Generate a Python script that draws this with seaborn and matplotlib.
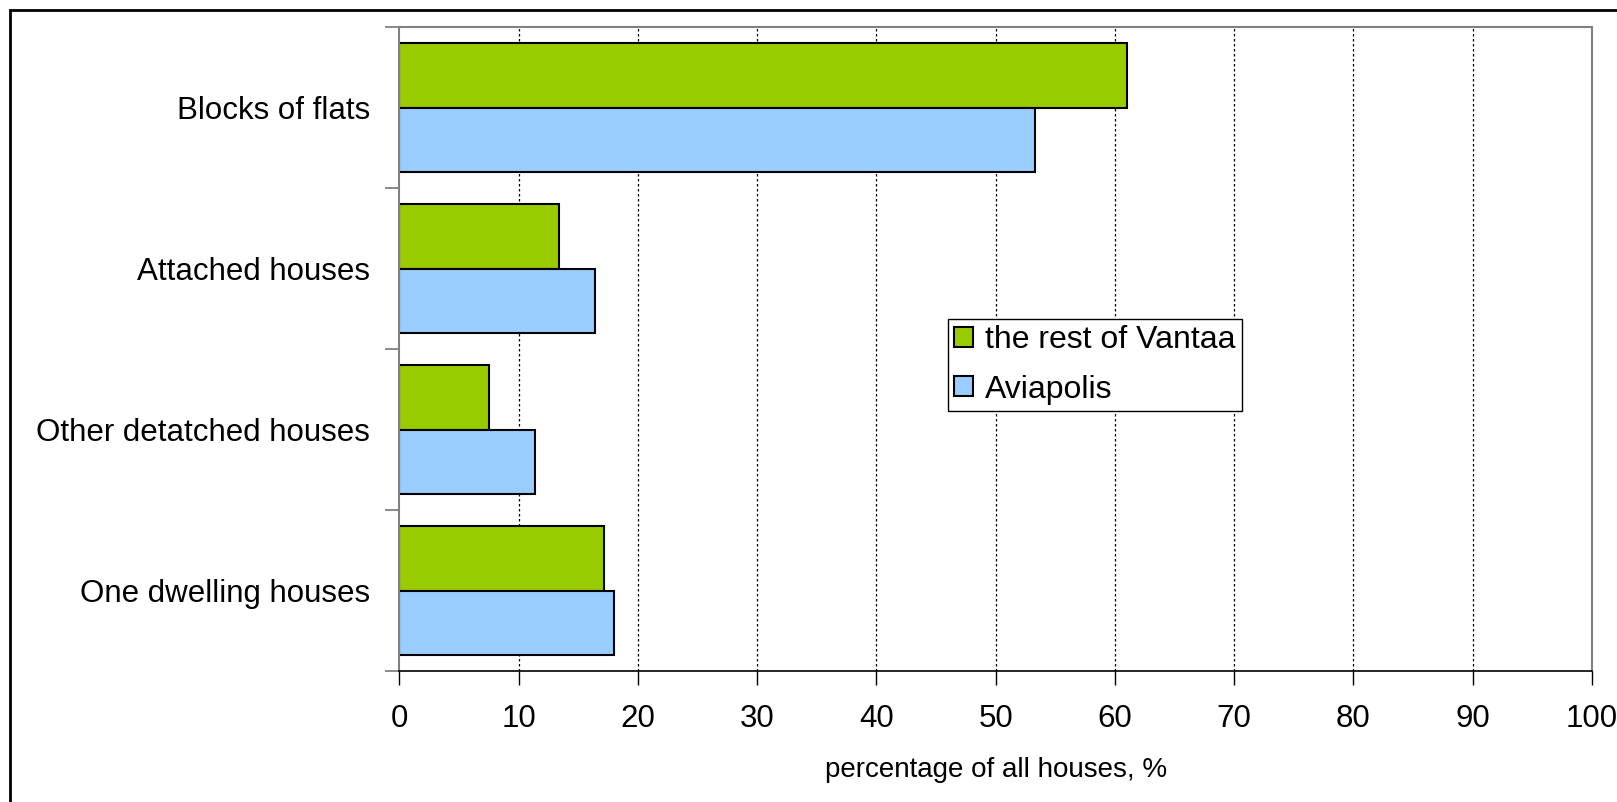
import matplotlib
matplotlib.use("Agg")
import matplotlib.pyplot as plt
import seaborn as sns
import pandas as pd
from matplotlib.patches import Rectangle
from matplotlib.ticker import FixedLocator

# values (percentage of all houses)
categories = ["Blocks of flats", "Attached houses", "Other detatched houses", "One dwelling houses"]
rest_of_vantaa = [61.0, 13.4, 7.5, 17.2]
aviapolis = [53.3, 16.4, 11.4, 18.0]
series_names = ["the rest of Vantaa", "Aviapolis"]
series_colors = ["#99CC00", "#99CCFF"]
x_ticks = [0, 10, 20, 30, 40, 50, 60, 70, 80, 90, 100]

df = pd.DataFrame({
    "category": categories * 2,
    "series": [series_names[0]] * 4 + [series_names[1]] * 4,
    "value": rest_of_vantaa + aviapolis,
})

sns.set_style("white")
plt.rcParams["font.family"] = ["Liberation Sans", "DejaVu Sans"]
plt.rcParams["text.color"] = "black"
plt.rcParams["axes.labelcolor"] = "black"
plt.rcParams["xtick.color"] = "black"
plt.rcParams["ytick.color"] = "black"

fig = plt.figure(figsize=(16.17, 8.02), dpi=100)
ax = fig.add_axes([0.2469, 0.16334, 0.73764, 0.80299])

sns.barplot(data=df, y="category", x="value", hue="series", order=categories,
            hue_order=series_names, palette=series_colors, orient="h",
            width=0.8, edgecolor="black", linewidth=1.5, saturation=1,
            ax=ax, legend=True)

ax.set_xlim(0, 100)
ax.set_ylim(3.5, -0.5)
ax.set_xticks(x_ticks)
ax.set_xticklabels([str(t) for t in x_ticks])
ax.tick_params(axis="x", bottom=True, direction="out", length=10, width=1,
               color="black", labelcolor="black", labelsize=22.5, pad=14)

# category labels at centres, tick marks at the boundaries
ax.yaxis.set_major_locator(FixedLocator([-0.5, 0.5, 1.5, 2.5, 3.5]))
ax.yaxis.set_minor_locator(FixedLocator(range(len(categories))))
ax.set_yticklabels([], minor=False)
ax.set_yticklabels(categories, minor=True)
ax.tick_params(axis="y", which="major", left=True, direction="out", length=10,
               width=1.3, color="#808080")
ax.tick_params(axis="y", which="minor", left=True, length=0, labelsize=22.5,
               labelcolor="black", pad=21)

ax.set_xlabel("")
ax.set_ylabel("")

# dashed vertical gridlines
for t in x_ticks[1:-1]:
    ax.axvline(t, color="black", lw=0.9, ls=(0, (2, 2)), zorder=0)

for side in ["left", "top", "right"]:
    ax.spines[side].set_color("#808080")
    ax.spines[side].set_linewidth(1.5)
ax.spines["bottom"].set_color("black")
ax.spines["bottom"].set_linewidth(1.2)

handles, labels = ax.get_legend_handles_labels()
leg = ax.legend(handles, labels, loc="upper left", bbox_to_anchor=(0.46, 0.5466),
                fontsize=23, frameon=True, fancybox=False, edgecolor="black",
                framealpha=1, borderaxespad=0, handlelength=0.6, handleheight=0.6,
                handletextpad=0.35, labelspacing=0.6, borderpad=0.2)
leg.get_frame().set_linewidth(1.0)

fig.text(0.6157, 1 - 770 / 802, "percentage of all houses, %", fontsize=20,
         ha="center", va="center")

# outer chart border (runs off the right and bottom edges)
fig.patches.append(Rectangle((10 / 1617, -0.1), 1.2, 1 - 10 / 802 + 0.1,
                             transform=fig.transFigure, fill=False,
                             edgecolor="black", lw=2))

fig.savefig("out.png", dpi=100)
